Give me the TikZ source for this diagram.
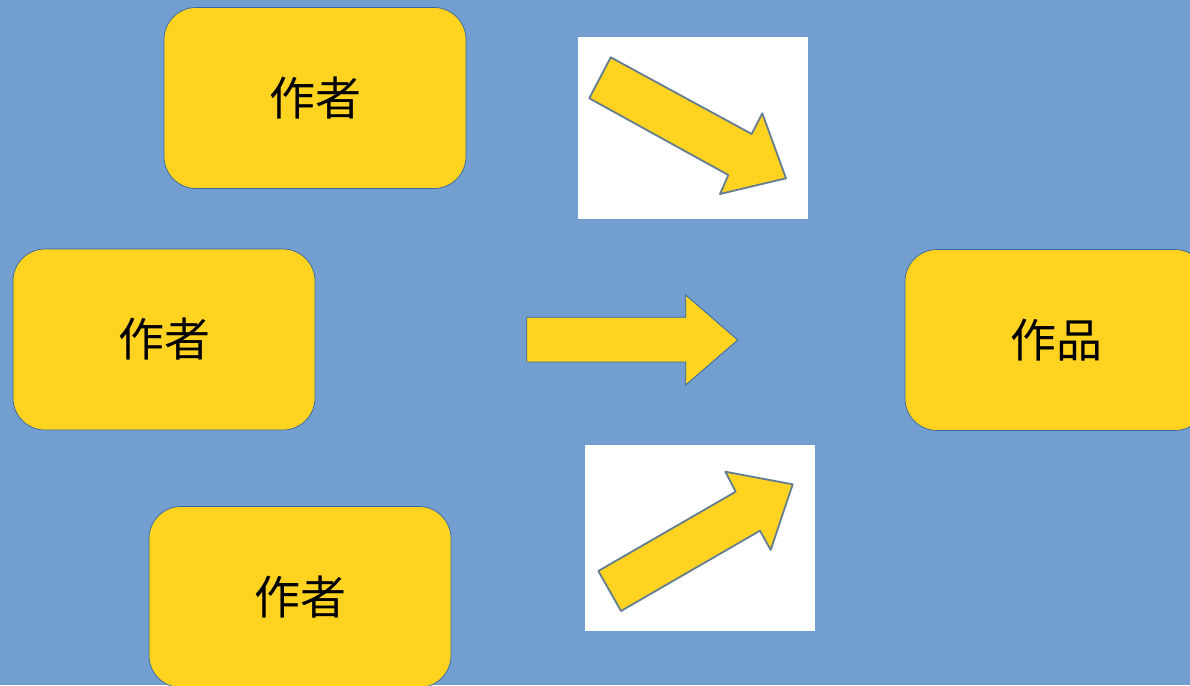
\documentclass[tikz,border=0pt]{standalone}
\usepackage{fontspec}
\newfontfamily\cjk{Noto Sans CJK JP}
\definecolor{bgblue}{RGB}{114,159,207}
\definecolor{boxyellow}{RGB}{255,211,32}
\definecolor{edgeblue}{RGB}{52,101,164}
\definecolor{arrowedge}{RGB}{100,125,145}
\begin{document}
\begin{tikzpicture}[x=1pt,y=-1pt,
  box/.style={draw=edgeblue,line width=0.7pt,fill=boxyellow,rounded corners=32pt,
    minimum width=302pt,minimum height=181pt,inner sep=0pt,
    font=\cjk\fontsize{46pt}{50pt}\selectfont,text=black},
  imgbg/.style={fill=white,draw=none},
  blockarrow/.style={fill=boxyellow,draw=arrowedge,line width=1.8pt,line join=round},
  flatarrow/.style={fill=boxyellow,draw=edgeblue,line width=0.8pt,line join=miter}]
\fill[bgblue] (0,0) rectangle (1190,685);
\useasboundingbox (0,0) rectangle (1190,685);
% boxes
\node[box] (a1) at (315,98) {作者};
\node[box] (a2) at (164,339.5) {作者};
\node[box] (a3) at (300,597) {作者};
\node[box] (w) at (1056,340) {作品};
% white image panels
\fill[imgbg] (577.5,37) rectangle (808,219) coordinate (p1);
\fill[imgbg] (585,445) rectangle (815,631) coordinate (p2);
% down-right arrow
\draw[blockarrow] (610.7,57.3) -- (751.7,134) -- (762.3,113.3) -- (786,178.3)
  -- (720,194) -- (728.3,175) -- (589.3,98.3) -- cycle;
% up-right arrow
\draw[blockarrow] (598.3,571) -- (735.7,491.7) -- (725.3,471.7) -- (792.7,484.3)
  -- (770.7,550) -- (760,530.7) -- (621,611) -- cycle;
% middle arrow
\draw[flatarrow] (526.7,317.3) -- (685.7,317.3) -- (685.7,295) -- (737.7,340)
  -- (685.7,385) -- (685.7,362) -- (526.7,362) -- cycle;
\end{tikzpicture}
\end{document}
